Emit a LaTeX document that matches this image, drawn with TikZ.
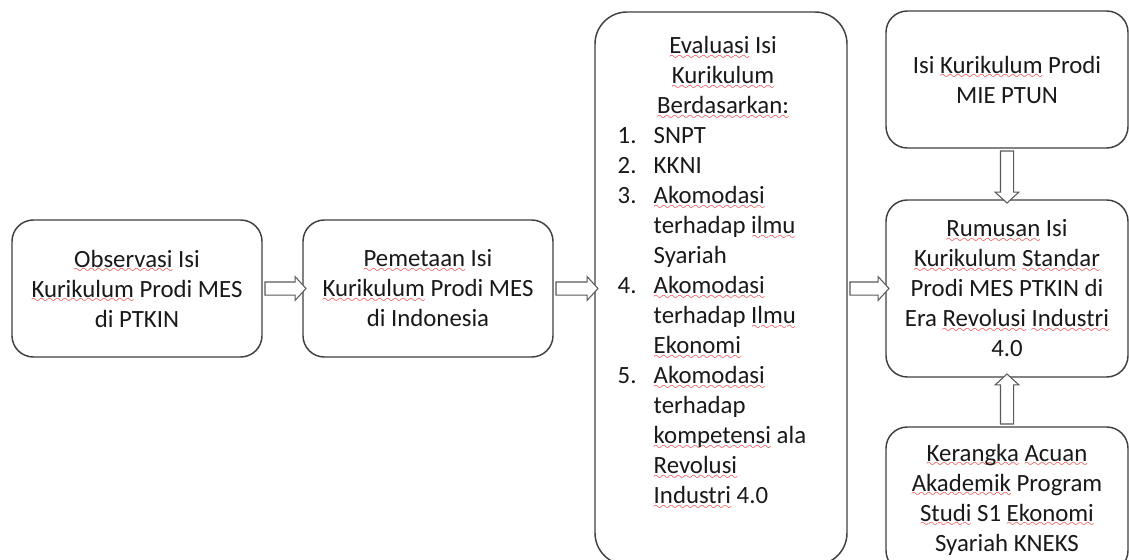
\documentclass[tikz,border=0pt]{standalone}
\usepackage{fontspec}
\setmainfont{Carlito}
\usetikzlibrary{shapes.arrows}

% red spell-check wave under a word
\font\wavefont=lasy8 \relax
\newsavebox{\sqbox}
\newcommand{\squig}[1]{\sbox{\sqbox}{#1}%
    \rlap{\textcolor{red!90!black}{\lower4.2pt\hbox to \wd\sqbox{\xleaders\hbox{\wavefont\char58}\hfil}}}%
    \usebox{\sqbox}}
% list number with hanging text
\newcommand{\nitem}[1]{\makebox[27pt][l]{#1}}

\tikzset{
    panel/.style={draw=black!75, line width=1.1pt, rounded corners=16pt, fill=white,
        align=center, text=black!90, font=\fontsize{18.6}{22.5}\selectfont, inner sep=0pt},
    hollow/.style={single arrow, draw=black!65, line width=0.8pt, fill=white,
        inner sep=4.5pt, single arrow head extend=4pt, single arrow tip angle=95,
        minimum height=#1, sloped, allow upside down},
}

\begin{document}
\begin{tikzpicture}[x=0.75pt, y=-0.75pt]
    \useasboundingbox (0,0) rectangle (1129,560);
    \clip (0,0) rectangle (1129,560);

    % Boxes:
    \node[panel, minimum width=187.5pt, minimum height=102.75pt] (obs) at (137,288.5)
        {\squig{Observasi} Isi\\ \squig{Kurikulum} Prodi MES\\ di PTKIN};
    \node[panel, minimum width=187.5pt, minimum height=102.75pt] (map) at (428,288.5)
        {\squig{Pemetaan} Isi\\ \squig{Kurikulum} Prodi MES\\ di Indonesia};
    \node[panel, rounded corners=24pt, minimum width=189pt, minimum height=414.75pt] (eval) at (721,288.5) {};
    \node[panel, draw=none, fill=none, anchor=west, align=left] (evaltext) at (617,273)
        {\makebox[158pt]{\squig{Evaluasi} Isi}\\
         \makebox[158pt]{\squig{Kurikulum}}\\
         \makebox[158pt]{\squig{Berdasarkan:}}\\
         \nitem{1.}SNPT\\
         \nitem{2.}KKNI\\
         \nitem{3.}\squig{Akomodasi}\\
         \nitem{}terhadap \squig{ilmu}\\
         \nitem{}Syariah\\
         \nitem{4.}\squig{Akomodasi}\\
         \nitem{}terhadap \squig{Ilmu}\\
         \nitem{}\squig{Ekonomi}\\
         \nitem{5.}\squig{Akomodasi}\\
         \nitem{}terhadap\\
         \nitem{}\squig{kompetensi} ala\\
         \nitem{}\squig{Revolusi}\\
         \nitem{}\squig{Industri} 4.0};
    \node[panel, minimum width=181.5pt, minimum height=102.75pt] (isi) at (1007,79.5)
        {Isi \squig{Kurikulum} Prodi\\ MIE PTUN};
    \node[panel, minimum width=181.5pt, minimum height=132.75pt] (rumus) at (1007,288.5)
        {\squig{Rumusan} Isi\\ \squig{Kurikulum} \squig{Standar}\\ Prodi MES PTKIN di\\
         Era \squig{Revolusi} \squig{Industri}\\ 4.0};
    \node[panel, minimum width=181.5pt, minimum height=108.75pt] (acuan) at (1007,499.5)
        {\squig{Kerangka} \squig{Acuan}\\ \squig{Akademik} Program\\
         \squig{Studi} S1 \squig{Ekonomi}\\ Syariah KNEKS};

    % Hollow arrows between the boxes:
    \path (obs) -- (map) node[hollow=30.75pt, midway] (a1) {};
    \path (map) -- (eval) node[hollow=31.5pt, midway] (a2) {};
    \path (eval) -- (rumus) node[hollow=29.25pt, midway] (a3) {};
    \path (isi) -- (rumus) node[hollow=39pt, midway] (a4) {};
    \path (acuan) -- (rumus) node[hollow=37.5pt, midway] (a5) {};
\end{tikzpicture}
\end{document}
